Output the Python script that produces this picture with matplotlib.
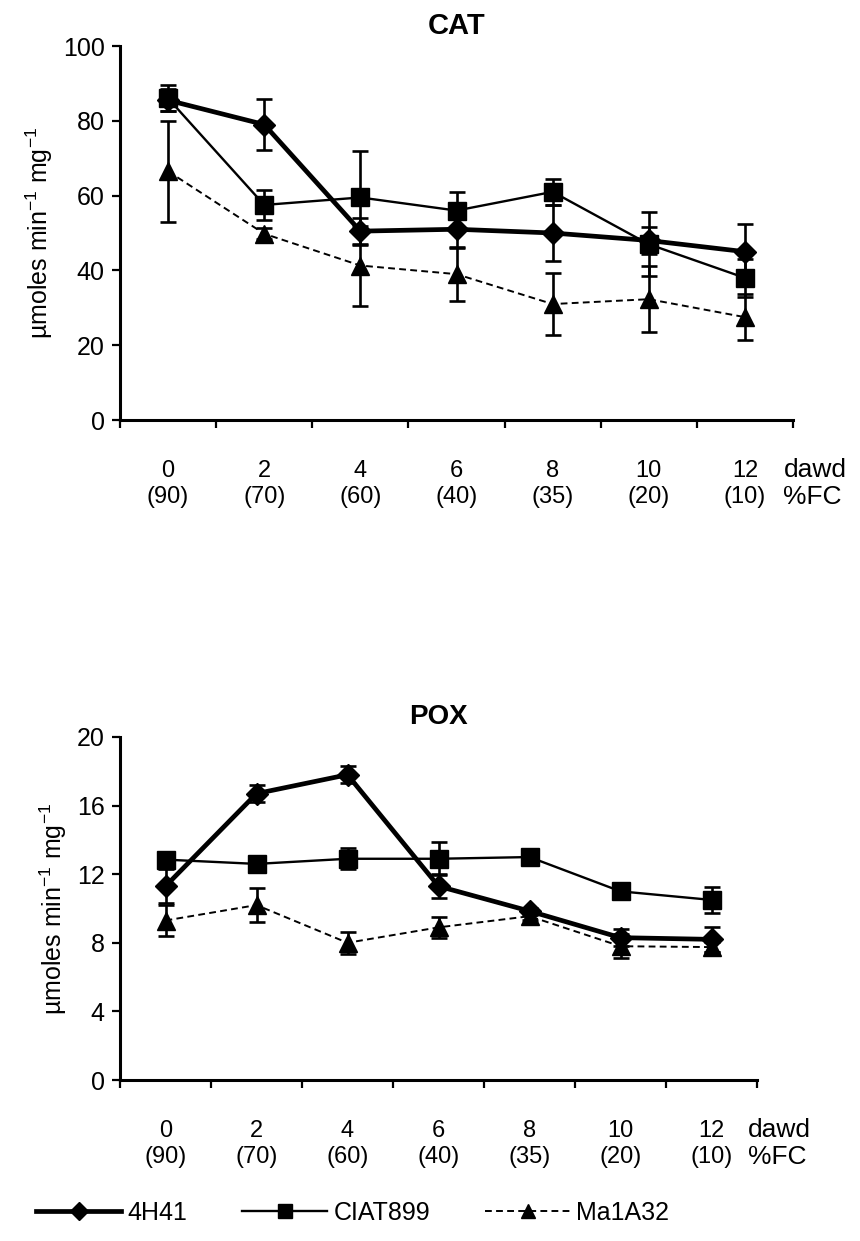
import matplotlib
matplotlib.use("Agg")
import matplotlib.pyplot as plt
from matplotlib.lines import Line2D
import numpy as np

plt.rcParams['font.family'] = ['Liberation Sans', 'DejaVu Sans']

# ---------------- data ----------------
days = ['0', '2', '4', '6', '8', '10', '12']
fc = ['(90)', '(70)', '(60)', '(40)', '(35)', '(20)', '(10)']
series_names = ['4H41', 'CIAT899', 'Ma1A32']

cat_4h41 = [85.5, 79.0, 50.5, 51.0, 50.0, 48.0, 45.0]
cat_4h41_err = [3.0, 6.7, 3.6, 5.0, 7.5, 3.5, 7.5]
cat_ciat = [86.0, 57.5, 59.5, 56.0, 61.0, 47.0, 38.0]
cat_ciat_err = [3.5, 4.0, 12.5, 5.0, 3.5, 8.5, 5.0]
cat_ma = [66.5, 49.8, 41.3, 39.0, 31.0, 32.3, 27.5]
cat_ma_err = [13.5, 1.5, 10.7, 7.2, 8.2, 8.8, 6.2]

pox_4h41 = [11.3, 16.7, 17.8, 11.3, 9.85, 8.3, 8.2]
pox_4h41_err = [1.0, 0.5, 0.5, 0.7, 0.2, 0.5, 0.75]
pox_ciat = [12.85, 12.6, 12.9, 12.9, 13.0, 11.0, 10.5]
pox_ciat_err = [0.3, 0.3, 0.6, 0.95, 0.2, 0.3, 0.75]
pox_ma = [9.3, 10.2, 8.0, 8.9, 9.55, 7.8, 7.75]
pox_ma_err = [0.9, 1.0, 0.65, 0.6, 0.2, 0.7, 0.3]

cat_ticks = [0, 20, 40, 60, 80, 100]
pox_ticks = [0, 4, 8, 12, 16, 20]

# ---------------- styles ----------------
styles = [
    dict(marker='D', markersize=11, lw=3.4, ls='-'),
    dict(marker='s', markersize=13, lw=1.7, ls='-'),
    dict(marker='^', markersize=13, lw=1.4, ls=(0, (3.5, 2.2))),
]

FS = 18

fig = plt.figure(figsize=(8.6, 12.41), dpi=100)
W, H = 860, 1241

def make_axes(l, r, t, b):
    return fig.add_axes([l / W, 1 - b / H, (r - l) / W, (b - t) / H])

ax1 = make_axes(120, 793, 46, 420)
ax2 = make_axes(120, 757, 737, 1080)

def draw(ax, data, ticks, title, ymax, title_fs):
    x = np.arange(len(days))
    for (vals, errs), st in zip(data, styles):
        ax.errorbar(x, vals, yerr=errs, color='black', ecolor='black',
                    elinewidth=1.9, capsize=6, capthick=1.9,
                    marker=st['marker'], markersize=st['markersize'],
                    linewidth=st['lw'], linestyle=st['ls'],
                    markerfacecolor='black', markeredgecolor='black')
    ax.set_xlim(-0.5, len(days) - 0.5)
    ax.set_ylim(0, ymax)
    ax.set_yticks(ticks)
    ax.set_yticklabels([str(t) for t in ticks], fontsize=FS)
    ax.set_xticks(x)
    ax.set_xticklabels([''] * len(days))
    for xi, d, f in zip(x, days, fc):
        ax.annotate(d + '\n' + f, xy=(xi, 0), xycoords=('data', 'axes fraction'),
                    xytext=(0, -46), textcoords='offset points', ha='center',
                    va='center', fontsize=FS - 1, linespacing=1.25)
    ax.annotate('dawd\n%FC', xy=(6.4, 0), xycoords=('data', 'axes fraction'),
                xytext=(0, -46), textcoords='offset points', ha='left',
                va='center', fontsize=FS + 1, linespacing=1.15)
    ax.set_xticks(np.arange(-0.5, len(days)), minor=True)
    ax.tick_params(axis='x', which='major', length=0)
    ax.tick_params(axis='x', which='minor', length=6, width=1.6, direction='out')
    ax.tick_params(axis='y', length=6, width=1.6, direction='out', pad=5)
    for s in ['top', 'right']:
        ax.spines[s].set_visible(False)
    for s in ['left', 'bottom']:
        ax.spines[s].set_linewidth(2.2)
    ax.set_title(title, fontsize=title_fs, fontweight='bold', pad=9)
    ax.set_ylabel(r'µmoles min$^{\mathregular{-1}}$ mg$^{\mathregular{-1}}$',
                  fontsize=FS, labelpad=6)

draw(ax1, [(cat_4h41, cat_4h41_err), (cat_ciat, cat_ciat_err), (cat_ma, cat_ma_err)],
     cat_ticks, 'CAT', 100, 21)
draw(ax2, [(pox_4h41, pox_4h41_err), (pox_ciat, pox_ciat_err), (pox_ma, pox_ma_err)],
     pox_ticks, 'POX', 20, 20)

leg_handles = [Line2D([], [], color='black', marker=st['marker'],
                      markersize=st['markersize'] * 0.8, linewidth=st['lw'],
                      linestyle=st['ls']) for st in styles]
fig.legend(leg_handles, series_names, loc='center left',
           bbox_to_anchor=(36 / W, 1 - 1213 / H), ncol=3, frameon=False,
           fontsize=FS, handlelength=3.4, handletextpad=0.25, columnspacing=2.2,
           borderaxespad=0, borderpad=0)

fig.savefig('out.png', dpi=100)
